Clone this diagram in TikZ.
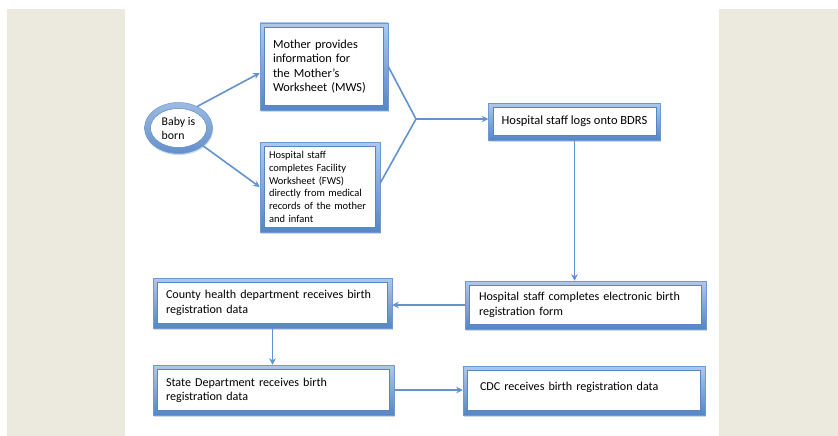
\documentclass[tikz,border=0pt]{standalone}
\usepackage{fontspec}
\setmainfont{Carlito}
\usetikzlibrary{arrows.meta,shapes.geometric,shadows,calc}
\definecolor{panel}{HTML}{ECE9DF}
\definecolor{bandtop}{HTML}{AFC8EA}
\definecolor{bandbot}{HTML}{5586C6}
\definecolor{rim}{HTML}{6F9AD0}
\definecolor{innerline}{HTML}{5A86C0}
\definecolor{flow}{HTML}{6393CE}
\definecolor{ink}{HTML}{000000}

\begin{document}
\begin{tikzpicture}[x=1pt,y=-1pt,
  framed/.style={inner sep=0pt, align=left, text=ink,
    draw=rim, line width=0.5pt, top color=bandtop, bottom color=bandbot,
    drop shadow={opacity=0.3, shadow xshift=0.6pt, shadow yshift=-1.6pt, fill=bandbot}},
  box/.style={framed, rectangle, inner xsep=13pt,
    path picture={\filldraw[fill=white, draw=innerline, line width=0.5pt]
      ([shift={(4.5pt,-4.5pt)}]path picture bounding box.north west) rectangle
      ([shift={(-4.5pt,4.5pt)}]path picture bounding box.south east);}},
  ring/.style={framed, ellipse, top color=bandtop!80!bandbot, bottom color=bandbot!85!bandtop,
    path picture={\filldraw[fill=white, draw=innerline, line width=0.5pt]
      (path picture bounding box.center) ellipse [x radius=28pt, y radius=19.5pt];}},
  flowline/.style={draw=flow, line width=1.6pt},
  flowarrow/.style={flowline, -{Stealth[length=6.5pt,width=6.5pt]}}]

% page and side panels
\useasboundingbox (0,0) rectangle (838,436);
\fill[white] (0,0) rectangle (838,436);
\fill[panel] (7,9) rectangle (125,436);
\fill[panel] (719,9) rectangle (838,436);

% steps
\node[ring, minimum width=68pt, minimum height=51pt,
      font=\fontsize{11.8}{14}\selectfont] (baby) at (178.5,128) {Baby is\\born};

\node[box, minimum height=87pt, text width=102pt,
      font=\fontsize{12.3}{14.5}\selectfont] (mws) at (324,66.5)
  {Mother provides\\information for\\the Mother’s\\Worksheet (MWS)};

\node[box, inner xsep=9pt, minimum height=90pt, text width=102pt,
      font=\fontsize{10.5}{12.7}\selectfont] (fws) at (320,187)
  {Hospital staff\\completes Facility\\Worksheet (FWS)\\directly from medical\\records of the mother\\and infant};

\node[box, minimum width=165pt, minimum height=37pt,
      font=\fontsize{12.5}{15}\selectfont] (bdrs) at (574.5,121.5)
  {Hospital staff logs onto BDRS};

\node[box, inner xsep=14pt, minimum height=48pt, text width=213pt,
      font=\fontsize{12.1}{15}\selectfont] (elec) at (585.5,305)
  {Hospital staff completes electronic birth\\registration form};

\node[box, minimum height=50pt, text width=213pt,
      font=\fontsize{12.1}{15}\selectfont] (county) at (272.5,303)
  {County health department receives birth\\registration data};

\node[box, minimum height=50pt, text width=215pt,
      font=\fontsize{12.1}{14}\selectfont] (state) at (273.5,390)
  {State Department receives birth\\registration data};

\node[box, inner xsep=17pt, minimum height=49pt, text width=208pt,
      font=\fontsize{12.1}{14}\selectfont] (cdc) at (584,390.5)
  {\raisebox{9pt}{CDC receives birth registration data}};

% connectors
\coordinate (join) at (416,119);
\draw[flowarrow] (baby.49) -- ([yshift=-6.5pt]mws.west);
\draw[flowarrow] (baby.-36) -- (fws.west);
\draw[flowline] (mws.east) -- (join) -- ([yshift=4pt]fws.east);
\draw[flowarrow] (join) -- (join -| bdrs.west);
\draw[flowarrow] (bdrs.south) -- (bdrs.south |- elec.north);
\draw[flowarrow] (elec.west) -- (elec.west -| county.east);
\draw[flowarrow] (county.south) -- (county.south |- state.north);
\draw[flowarrow] (state.east) -- (state.east -| cdc.west);
\end{tikzpicture}
\end{document}
